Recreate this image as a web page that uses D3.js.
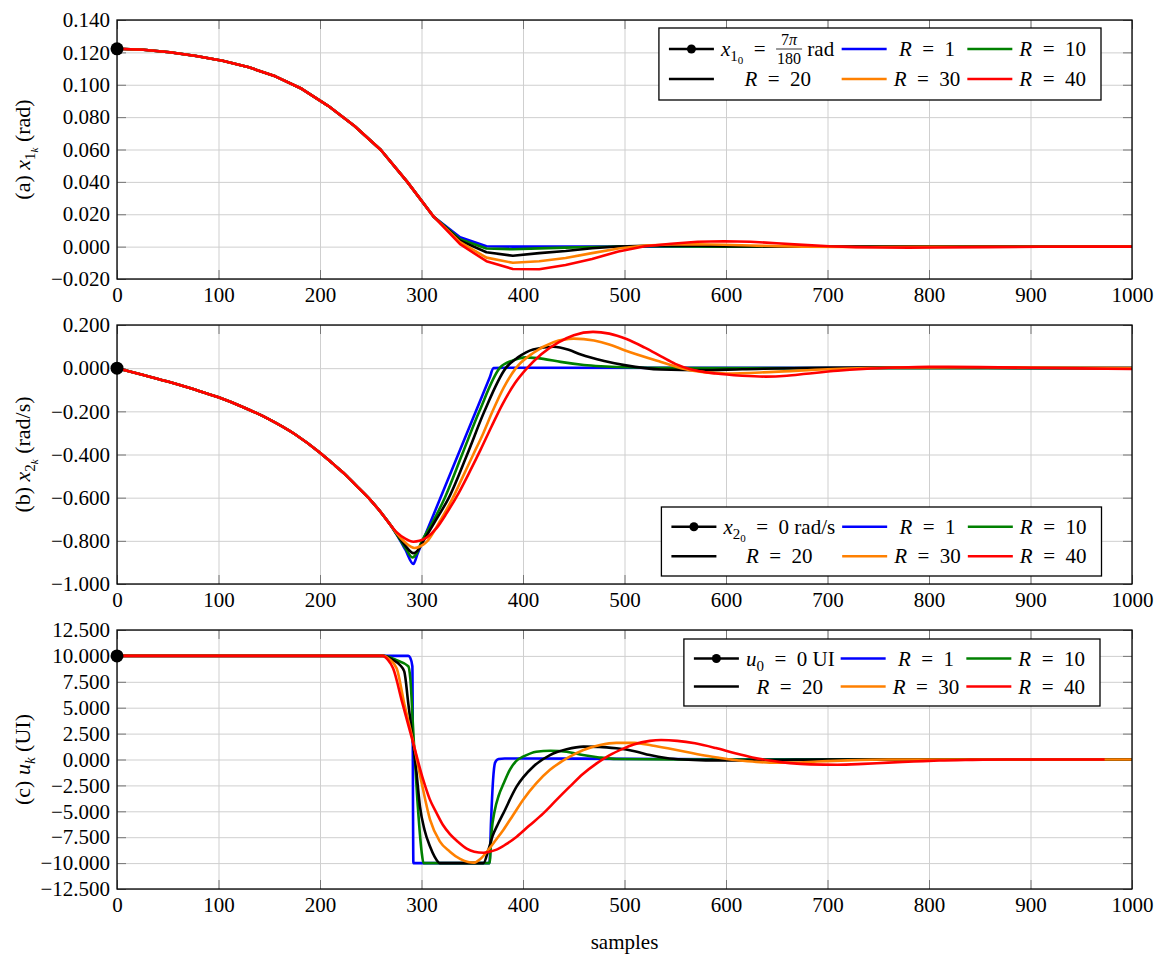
<!DOCTYPE html>
<html>
<head>
<meta charset="utf-8">
<script src="https://cdn.jsdelivr.net/npm/d3@7/dist/d3.min.js"></script>
<style>
body { margin: 0; background: #fff; }
svg { font-family: "Liberation Serif", "DejaVu Serif", serif; }
text { white-space: pre; }
</style>
</head>
<body>
<svg width="1158" height="959"></svg>
<script>
// tick values
var sampleTicks = [0, 100, 200, 300, 400, 500, 600, 700, 800, 900, 1000];
var x1Ticks = [-0.02, 0, 0.02, 0.04, 0.06, 0.08, 0.10, 0.12, 0.14];
var x2Ticks = [-1, -0.8, -0.6, -0.4, -0.2, 0, 0.2];
var uTicks = [-12.5, -10, -7.5, -5, -2.5, 0, 2.5, 5, 7.5, 10, 12.5];

var rValues = [1, 10, 20, 30, 40];
var x10 = 7 * Math.PI / 180, x20 = 0, u0 = 10;

// (a) x1 - same for every R until ~312 samples
var x1Head = [[0,0.1222],[26,0.1216],[52,0.1201],[78,0.1178],[104,0.1148],[130,0.1108],[156,0.1052],[182,0.0975],[208,0.0870],[234,0.0745],[260,0.0597],[286,0.0400],[312,0.0185]];
var x1R1 = [[338,0.0058],[364,0.0002],[390,0],[1000,0]];
var x1R10 = [[338,0.0045],[364,-0.0012],[390,-0.0016],[416,-0.0011],[442,-0.0006],[468,-0.0002],[494,0.0001],[520,0.0002],[546,0.0001],[600,0],[1000,0]];
var x1R20 = [[338,0.0037],[364,-0.0035],[390,-0.0056],[416,-0.0040],[442,-0.0027],[468,-0.0010],[494,0.0001],[520,0.0005],[546,0.0006],[572,0.0005],[598,0.0003],[650,0],[1000,0]];
var x1R30 = [[338,0.0028],[364,-0.0068],[390,-0.0100],[416,-0.0090],[442,-0.0070],[468,-0.0040],[494,-0.0012],[520,0.0007],[546,0.0013],[572,0.0015],[598,0.0012],[624,0.0007],[650,0.0003],[676,0],[728,-0.0002],[800,-0.0001],[1000,0]];
var x1R40 = [[338,0.0015],[364,-0.0090],[390,-0.0138],[416,-0.0140],[442,-0.0113],[468,-0.0076],[494,-0.0030],[520,0.0002],[546,0.0018],[572,0.0030],[598,0.0033],[624,0.0030],[650,0.0021],[676,0.0011],[702,0.0002],[728,-0.0003],[754,-0.0005],[780,-0.0006],[806,-0.0005],[858,-0.0003],[910,-0.0001],[962,0],[1000,0]];

// (b) x2
var x2Head = [[0,0],[25,-0.030],[50,-0.062],[75,-0.097],[100,-0.135],[125,-0.182],[150,-0.237],[175,-0.305],[200,-0.392],[212,-0.440],[225,-0.493],[237,-0.550],[250,-0.612],[262,-0.680],[270,-0.730]];
var x2R1 = [[276,-0.775],[284,-0.840],[292,-0.907],[296,-0.861],[367,-0.046],[371,0],[380,0.002],[1000,0]];
var x2R10 = [[276,-0.773],[284,-0.832],[291,-0.877],[295,-0.860],[300,-0.805],[312,-0.705],[323,-0.600],[340,-0.400],[357,-0.200],[377,0],[390,0.036],[403,0.050],[420,0.043],[437,0.029],[460,0.015],[477,0.009],[520,0.002],[600,0],[1000,0]];
var x2R20 = [[276,-0.770],[284,-0.822],[292,-0.857],[297,-0.840],[302,-0.800],[314,-0.705],[327,-0.600],[345,-0.400],[362,-0.200],[383,0],[395,0.050],[410,0.087],[430,0.099],[445,0.085],[457,0.063],[480,0.033],[500,0.014],[536,-0.006],[576,-0.009],[616,-0.005],[700,0.002],[800,0.003],[900,0.001],[1000,0]];
var x2R30 = [[276,-0.768],[284,-0.808],[293,-0.833],[299,-0.825],[306,-0.800],[318,-0.710],[331,-0.600],[341,-0.500],[351,-0.400],[361,-0.300],[370,-0.200],[381,-0.090],[393,0],[410,0.070],[430,0.120],[450,0.137],[470,0.128],[485,0.110],[500,0.083],[536,0.029],[564,-0.009],[600,-0.025],[647,-0.017],[700,-0.005],[774,0.003],[850,0.004],[1000,0]];
var x2R40 = [[276,-0.762],[284,-0.790],[292,-0.804],[298,-0.800],[305,-0.785],[315,-0.740],[325,-0.670],[337,-0.575],[348,-0.475],[358,-0.380],[369,-0.270],[380,-0.165],[392,-0.070],[404,0],[418,0.065],[435,0.120],[450,0.153],[469,0.168],[485,0.160],[502,0.135],[520,0.095],[536,0.055],[550,0.020],[565,-0.005],[590,-0.025],[616,-0.035],[639,-0.039],[660,-0.035],[679,-0.026],[710,-0.012],[735,-0.004],[770,0.003],[800,0.006],[850,0.005],[900,0.002],[950,-0.001],[1000,-0.004]];

// (c) u - saturated at 10 until ~262 samples
var uHead = [[0,10],[100,10],[200,10],[262,10]];
var uR1 = [[270,10],[287,10],[289,9.8],[291,9.0],[292,-10],[367,-10],[368.5,-6],[370.5,-2],[372.5,-0.3],[376,0.05],[382,0.1],[400,0.1],[500,0.06],[600,0.03],[1000,0]];
var uR10 = [[275,9.6],[287,9.0],[289,7.8],[292,2.5],[296,-4],[300,-8.8],[302,-10],[367,-10],[369,-7],[372,-5],[376,-3.5],[381,-2.3],[387,-1.0],[395,0],[400,0.27],[413,0.75],[427,0.85],[443,0.75],[459,0.43],[475,0.2],[492,0.05],[550,0],[1000,0]];
var uR20 = [[272,9.6],[279,9.1],[283,8.5],[287,5.4],[291.4,1.9],[295,-1.2],[298.5,-4.55],[303,-6.8],[308.4,-8.4],[313,-9.4],[318,-10],[361,-10],[366,-8.7],[370,-7.4],[375,-6.3],[380.6,-5.2],[393.8,-2.6],[410,-0.7],[426.6,0.43],[443,0.98],[459.5,1.24],[475,1.22],[492,1.08],[510,0.8],[525,0.43],[541,0.15],[558,0],[580,-0.08],[610,-0.1],[650,-0.06],[700,0],[1000,0]];
var uR30 = [[268,9.7],[275.5,8.8],[283,5.4],[291.4,1.9],[300,-2.2],[308.4,-5.8],[318,-7.9],[328,-8.9],[338,-9.6],[346,-9.9],[352,-9.95],[358,-9.6],[366,-8.7],[373,-7.8],[380.6,-6.8],[390,-5.4],[400,-3.9],[413,-2.3],[426.6,-1.0],[443,0.1],[459.5,0.92],[476,1.4],[492,1.6],[510,1.6],[527,1.35],[542.6,1.08],[560,0.75],[576,0.43],[592,0.18],[609,-0.05],[626,-0.2],[643,-0.3],[665,-0.3],[690,-0.2],[720,-0.08],[760,0],[1000,0]];
var uR40 = [[267,9.6],[272,8.8],[281,5.5],[291,1.9],[301.8,-2.0],[308,-3.8],[315,-5.2],[321,-6.3],[328,-7.2],[336,-7.95],[344.5,-8.6],[352,-8.9],[361,-9.0],[367,-8.9],[374,-8.7],[383,-8.2],[393.8,-7.45],[406,-6.4],[420,-5.2],[433,-3.9],[446.3,-2.6],[459,-1.4],[472.6,-0.37],[485,0.4],[498.8,1.05],[509,1.45],[525,1.80],[536,1.88],[552,1.8],[569.5,1.56],[590,1.1],[609,0.6],[626,0.2],[643,-0.1],[663,-0.35],[683,-0.47],[709.5,-0.5],[735,-0.42],[759.7,-0.3],[785,-0.2],[810,-0.1],[840,-0.04],[876,0],[973,0]];

var colors = ["#0000ff", "#008000", "#000000", "#ff8000", "#ff0000"];
var FS = 21;
var EQ = "\u2002=\u2002"; // wide spacing round "=" like TeX

var svg = d3.select("svg");
var x = d3.scaleLinear().domain([0, 1000]).range([117, 1132]);

// little helpers for the math-ish labels
function sub(t, main, s1, s2, italicS2) {
  t.append("tspan").attr("font-style", "italic").text(main);
  t.append("tspan").attr("dy", 5).attr("font-size", 15).text(s1);
  if (s2) {
    t.append("tspan").attr("dy", 3).attr("font-size", 11).attr("font-style", italicS2 ? "italic" : null).text(s2);
    return 8;
  }
  return 5;
}
function rLabel(n) {
  return function(g) {
    var t = g.append("text");
    t.append("tspan").attr("font-style", "italic").text("R");
    t.append("tspan").text(EQ + n);
  };
}
function x10Label(g) {
  var t = g.append("text");
  var back = sub(t, "x", "1", "0");
  t.append("tspan").attr("dy", -back).text(EQ);
  var w = t.node().getComputedTextLength();
  var fx = w + 13;
  var num = g.append("text").attr("x", fx).attr("y", -11).attr("font-size", 16).attr("text-anchor", "middle");
  num.append("tspan").text("7");
  num.append("tspan").attr("font-style", "italic").text("π");
  g.append("text").attr("x", fx).attr("y", 8).attr("font-size", 16).attr("text-anchor", "middle").text("180");
  g.append("line").attr("x1", fx - 13).attr("x2", fx + 13).attr("y1", -7).attr("y2", -7).attr("stroke", "#000").attr("stroke-width", 0.8);
  g.append("text").attr("x", fx + 13).text(" rad");
}
function x20Label(g) {
  var t = g.append("text");
  var back = sub(t, "x", "2", "0");
  t.append("tspan").attr("dy", -back).text(EQ + "0 rad/s");
}
function u0Label(g) {
  var t = g.append("text");
  var back = sub(t, "u", "0");
  t.append("tspan").attr("dy", -back).text(EQ + "0 UI");
}

var panels = [
  { top: 20, bottom: 279, domain: [-0.02, 0.14], ticks: x1Ticks, head: x1Head,
    tails: [x1R1, x1R10, x1R20, x1R30, x1R40], init: x10, curve: d3.curveLinear,
    ylab: function(t) { t.append("tspan").text("(a) "); var b = sub(t, "x", "1", "k", true); t.append("tspan").attr("dy", -b).text(" (rad)"); },
    first: x10Label, leg: { right: 1101, top: 28, row: 30, h: 72 } },
  { top: 325, bottom: 584, domain: [-1, 0.2], ticks: x2Ticks, head: x2Head,
    tails: [x2R1, x2R10, x2R20, x2R30, x2R40], init: x20, curve: d3.curveMonotoneX,
    ylab: function(t) { t.append("tspan").text("(b) "); var b = sub(t, "x", "2", "k", true); t.append("tspan").attr("dy", -b).text(" (rad/s)"); },
    first: x20Label, leg: { right: 1101.5, top: 507, row: 29.4, h: 69 } },
  { top: 630, bottom: 889, domain: [-12.5, 12.5], ticks: uTicks, head: uHead,
    tails: [uR1, uR10, uR20, uR30, uR40], init: u0, curve: d3.curveMonotoneX,
    ylab: function(t) { t.append("tspan").text("(c) "); t.append("tspan").attr("font-style", "italic").text("u"); t.append("tspan").attr("dy", 5).attr("font-size", 15).attr("font-style", "italic").text("k"); t.append("tspan").attr("dy", -5).text(" (UI)"); },
    first: u0Label, leg: { right: 1100, top: 639, row: 28, h: 67 } }
];

function styleAxis(s, color) {
  s.attr("font-size", FS).attr("font-family", "Liberation Serif");
  s.select(".domain").remove();
  s.selectAll(".tick line").attr("stroke", color);
}

panels.forEach(function(p, i) {
  var y = d3.scaleLinear().domain(p.domain).range([p.bottom, p.top]);
  var h = p.bottom - p.top, w = x.range()[1] - x.range()[0];
  var g = svg.append("g");

  // grid
  g.append("g").attr("transform", "translate(0," + p.bottom + ")")
    .call(d3.axisBottom(x).tickValues(sampleTicks).tickSize(-h).tickFormat(""))
    .call(styleAxis, "#cfcfcf");
  g.append("g").attr("transform", "translate(" + x.range()[0] + ",0)")
    .call(d3.axisLeft(y).tickValues(p.ticks).tickSize(-w).tickFormat(""))
    .call(styleAxis, "#cfcfcf");

  // inward ticks on all four sides
  g.append("g").attr("transform", "translate(0," + p.bottom + ")")
    .call(d3.axisBottom(x).tickValues(sampleTicks).tickSize(-9).tickPadding(8).tickFormat(d3.format("d")))
    .call(styleAxis, "#777");
  g.append("g").attr("transform", "translate(0," + p.top + ")")
    .call(d3.axisTop(x).tickValues(sampleTicks).tickSize(-9).tickFormat(""))
    .call(styleAxis, "#777");
  g.append("g").attr("transform", "translate(" + x.range()[0] + ",0)")
    .call(d3.axisLeft(y).tickValues(p.ticks).tickSize(-9).tickPadding(7).tickFormat(d3.format(".3f")))
    .call(styleAxis, "#777");
  g.append("g").attr("transform", "translate(" + x.range()[1] + ",0)")
    .call(d3.axisRight(y).tickValues(p.ticks).tickSize(-9).tickFormat(""))
    .call(styleAxis, "#777");

  // curves
  g.append("clipPath").attr("id", "clip" + i)
    .append("rect").attr("x", x.range()[0]).attr("y", p.top).attr("width", w).attr("height", h);
  var line = d3.line().x(function(d) { return x(d[0]); }).y(function(d) { return y(d[1]); }).curve(p.curve);
  g.append("g").attr("clip-path", "url(#clip" + i + ")")
    .selectAll("path")
    .data(p.tails.map(function(t) { return p.head.concat(t); }))
    .enter().append("path")
    .attr("d", line)
    .attr("fill", "none")
    .attr("stroke", function(d, j) { return colors[j]; })
    .attr("stroke-width", 2.6)
    .attr("stroke-linejoin", "round");

  // initial condition marker
  g.append("circle").attr("cx", x(0)).attr("cy", y(p.init)).attr("r", 6.5).attr("fill", "#000");

  // frame
  g.append("rect").attr("x", x.range()[0]).attr("y", p.top).attr("width", w).attr("height", h)
    .attr("fill", "none").attr("stroke", "#000").attr("stroke-width", 1.3);

  // y label
  var yl = g.append("text").attr("font-size", FS + 1).attr("text-anchor", "middle")
    .attr("transform", "translate(30," + ((p.top + p.bottom) / 2) + ") rotate(-90)");
  p.ylab(yl);

  // legend, 3 columns
  var lg = g.append("g").attr("font-size", FS);
  var box = lg.append("rect").attr("fill", "#fff").attr("stroke", "#000").attr("stroke-width", 1.3);
  var entries = [
    { color: "#000", marker: true, label: p.first },
    { color: colors[0], label: rLabel(rValues[0]) },
    { color: colors[1], label: rLabel(rValues[1]) },
    { color: colors[2], label: rLabel(rValues[2]) },
    { color: colors[3], label: rLabel(rValues[3]) },
    { color: colors[4], label: rLabel(rValues[4]) }
  ];
  entries.forEach(function(e) {
    e.g = lg.append("g");
    e.label(e.g);
    e.w = e.g.node().getBBox().width;
  });
  var colW = [0, 1, 2].map(function(c) { return Math.max(entries[c].w, entries[c + 3].w); });
  var lineLen = 45, total = 10;
  colW.forEach(function(cw) { total += lineLen + 7 + cw + 6; });
  total += 8;
  var left = p.leg.right - total;
  box.attr("x", left).attr("y", p.leg.top).attr("width", total).attr("height", p.leg.h);
  var r0 = p.leg.top + (p.leg.h - p.leg.row) / 2;
  var cx = left + 10;
  colW.forEach(function(cw, c) {
    [entries[c], entries[c + 3]].forEach(function(e, r) {
      var cy = r0 + r * p.leg.row;
      lg.append("line").attr("x1", cx).attr("x2", cx + lineLen).attr("y1", cy).attr("y2", cy)
        .attr("stroke", e.color).attr("stroke-width", 2.6);
      if (e.marker) lg.append("circle").attr("cx", cx + lineLen / 2).attr("cy", cy).attr("r", 4.5).attr("fill", "#000");
      e.g.attr("transform", "translate(" + (cx + lineLen + 7 + (cw - e.w) / 2) + "," + (cy + 7) + ")");
      e.g.raise();
    });
    cx += lineLen + 7 + cw + 6;
  });
});

svg.append("text").attr("x", (x.range()[0] + x.range()[1]) / 2).attr("y", 949)
  .attr("text-anchor", "middle").attr("font-size", FS).text("samples");
</script>
</body>
</html>
